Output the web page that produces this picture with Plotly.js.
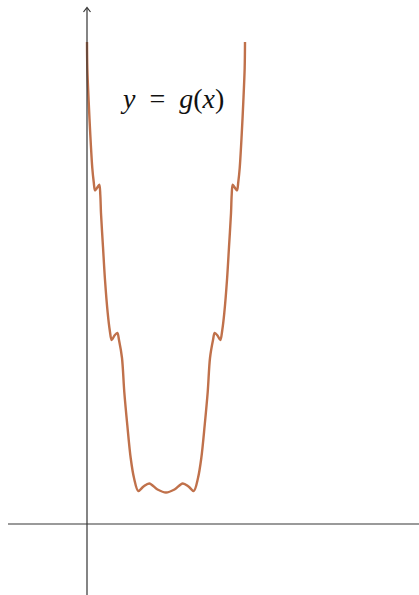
<!DOCTYPE html>
<html>
<head>
<meta charset="utf-8">
<script src="https://cdn.plot.ly/plotly-3.0.1.min.js"></script>
<style>
html,body{margin:0;padding:0;background:#fff;}
#chart{width:419px;height:595px;}
</style>
</head>
<body>
<div id="chart"></div>
<script>
// Curve values (x: 0..4, y: arbitrary units)
const xValues = [
  0.000, 0.008, 0.043, 0.084, 0.134, 0.170, 0.203, 0.253, 0.311, 0.337,
  0.354, 0.405, 0.456, 0.524, 0.575, 0.625, 0.696, 0.767, 0.810, 0.886,
  0.944, 1.020, 1.106, 1.190, 1.299, 1.430, 1.577, 1.785, 2.000,
  2.215, 2.423, 2.570, 2.701, 2.810, 2.894, 2.980, 3.056, 3.114, 3.190,
  3.233, 3.304, 3.375, 3.425, 3.476, 3.544, 3.595, 3.646, 3.663, 3.689,
  3.747, 3.797, 3.830, 3.866, 3.916, 3.957, 3.992, 4.000
];
const yValues = [
  10.00, 9.46, 8.755, 8.07, 7.386, 7.095, 6.92, 6.97, 7.04, 6.826,
  6.452, 5.747, 5.062, 4.378, 4.025, 3.817, 3.911, 3.963, 3.817, 3.444,
  2.739, 2.054, 1.369, 0.954, 0.685, 0.778, 0.840, 0.716, 0.654,
  0.716, 0.840, 0.778, 0.685, 0.954, 1.369, 2.054, 2.739, 3.444, 3.817,
  3.963, 3.911, 3.817, 4.025, 4.378, 5.062, 5.747, 6.452, 6.826, 7.04,
  6.97, 6.92, 7.095, 7.386, 8.07, 8.755, 9.46, 10.00
];
const curveLabel = "<i>y</i>&nbsp;&nbsp;=&nbsp;&nbsp;<i>g</i>(<i>x</i>)";

const pxPerX = 39.5, pxPerY = 48.2, originPx = 87, originPy = 524;
const W = 419, H = 595;
const xRange = [(0 - originPx) / pxPerX, (W - originPx) / pxPerX];
const yRange = [(originPy - H) / pxPerY, originPy / pxPerY];

const trace = {
  x: xValues, y: yValues, type: 'scatter', mode: 'lines',
  line: {color: '#c0714b', width: 2.4, shape: 'spline', smoothing: 0.9},
  hoverinfo: 'skip', showlegend: false
};

const layout = {
  width: W, height: H,
  margin: {l: 0, r: 0, t: 0, b: 0},
  paper_bgcolor: '#fff', plot_bgcolor: '#fff',
  xaxis: {range: xRange, visible: false, fixedrange: true},
  yaxis: {range: yRange, visible: false, fixedrange: true},
  shapes: [
    {type: 'line', xref: 'x', yref: 'y', x0: (8 - originPx) / pxPerX, x1: xRange[1], y0: 0, y1: 0,
     line: {color: '#9a9a9a', width: 2}},
    {type: 'line', xref: 'x', yref: 'y', x0: 0, x1: 0, y0: yRange[0], y1: (originPy - 8) / pxPerY,
     line: {color: '#333', width: 1.2}},
    {type: 'path', xref: 'x', yref: 'y',
     path: 'M ' + (-3.5 / pxPerX) + ' ' + ((originPy - 12) / pxPerY) +
           ' L 0 ' + ((originPy - 7.5) / pxPerY) +
           ' L ' + (3.5 / pxPerX) + ' ' + ((originPy - 12) / pxPerY),
     line: {color: '#333', width: 1.2}}
  ],
  annotations: [
    {xref: 'x', yref: 'y', x: (172 - originPx) / pxPerX, y: (originPy - 98) / pxPerY,
     text: curveLabel, showarrow: false,
     font: {family: 'Liberation Serif, DejaVu Serif, serif', size: 28, color: '#111'}}
  ]
};

Plotly.newPlot('chart', [trace], layout, {staticPlot: true, displayModeBar: false});
</script>
</body>
</html>
